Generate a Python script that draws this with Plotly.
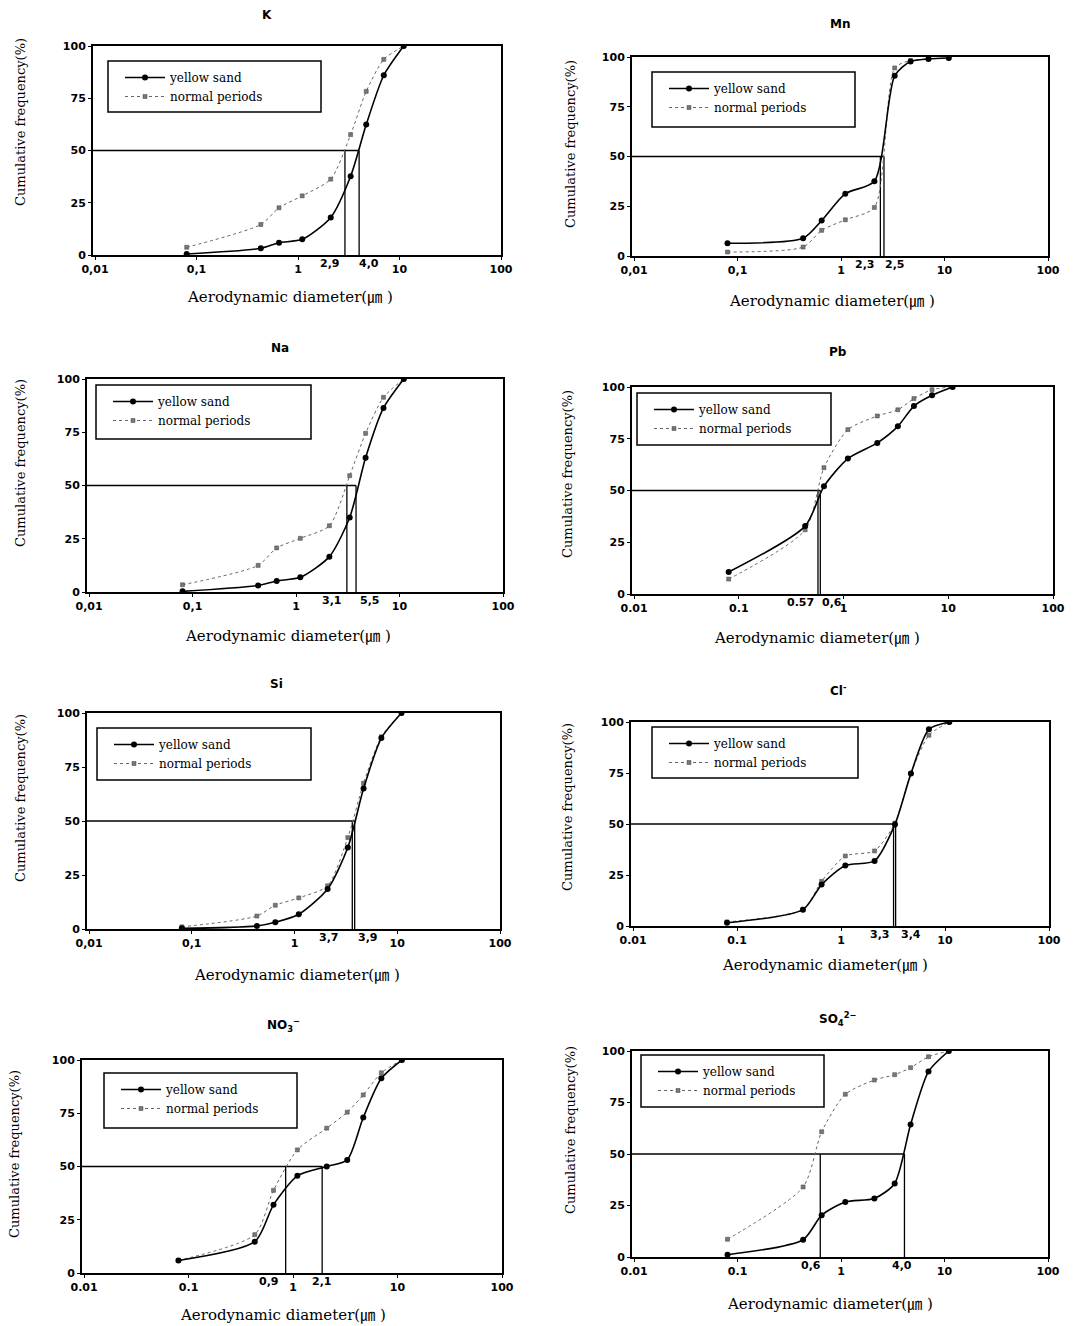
import math
import plotly.graph_objects as go

W, H = 1090, 1326

# ---- data ----
diameters = [0.08, 0.43, 0.65, 1.1, 2.1, 3.3, 4.7, 7.0, 11.0]

panel_names = ["K", "Mn", "Na", "Pb", "Si", "Cl", "NO3", "SO4"]
panel_titles = ["K", "Mn", "Na", "Pb", "Si", "Cl<sup>-</sup>",
                "NO<sub>3</sub><sup>−</sup>", "SO<sub>4</sub><sup>2−</sup>"]

yellow_K = [0.5, 3.2, 5.9, 7.5, 18.0, 37.7, 62.4, 86.0, 100]
normal_K = [3.7, 14.6, 22.6, 28.3, 36.3, 57.6, 78.3, 93.6, 100]
yellow_Mn = [6.4, 8.9, 17.8, 31.3, 37.6, 90.6, 97.8, 99.0, 99.5]
normal_Mn = [2.0, 4.5, 12.9, 18.2, 24.4, 94.5, 98.2, 99.0, 99.5]
yellow_Na = [0.3, 3.1, 5.2, 6.9, 16.6, 35.0, 63.0, 86.4, 100]
normal_Na = [3.4, 12.5, 20.7, 25.2, 31.1, 54.6, 74.5, 91.4, 100]
yellow_Pb = [10.6, 32.8, 52.0, 65.4, 73.0, 81.0, 90.8, 96.0, 100]
normal_Pb = [7.2, 31.0, 61.0, 79.4, 86.0, 89.0, 94.4, 98.7, 100]
yellow_Si = [0.3, 1.4, 3.1, 6.8, 18.5, 37.7, 65.0, 88.4, 100]
normal_Si = [1.0, 6.0, 11.0, 14.4, 20.0, 42.3, 67.5, 89.0, 100]
yellow_Cl = [1.6, 8.0, 20.3, 29.7, 31.9, 49.8, 74.7, 96.4, 100]
normal_Cl = [2.0, 8.2, 21.9, 34.3, 36.8, 50.5, 74.7, 93.5, 100]
yellow_NO3 = [5.9, 14.7, 32.0, 45.6, 50.0, 53.1, 73.0, 91.4, 100]
normal_NO3 = [5.9, 18.0, 38.8, 57.8, 68.0, 75.5, 83.6, 94.0, 100]
yellow_SO4 = [1.1, 8.4, 20.3, 26.7, 28.4, 35.7, 64.3, 90.0, 100]
normal_SO4 = [8.6, 34.0, 60.8, 79.0, 85.9, 88.5, 91.9, 97.2, 100]

yellow_series = [yellow_K, yellow_Mn, yellow_Na, yellow_Pb, yellow_Si, yellow_Cl, yellow_NO3, yellow_SO4]
normal_series = [normal_K, normal_Mn, normal_Na, normal_Pb, normal_Si, normal_Cl, normal_NO3, normal_SO4]

# median diameters (d50): where the reference lines are drawn, and their printed labels
d50_positions = [[2.9, 4.0], [2.4, 2.6], [3.1, 3.8], [0.57, 0.6],
                 [3.65, 3.85], [3.2, 3.35], [0.85, 1.9], [0.63, 4.1]]
d50_labels = [["2,9", "4,0"], ["2,3", "2,5"], ["3,1", "5,5"], ["0.57", "0,6"],
              ["3,7", "3,9"], ["3,3", "3,4"], ["0,9", "2,1"], ["0,6", "4,0"]]

x_tickvals = [0.01, 0.1, 1, 10, 100]
x_ticktext_comma = ["0,01", "0,1", "1", "10", "100"]
x_ticktext_dot = ["0.01", "0.1", "1", "10", "100"]
y_tickvals = [0, 25, 50, 75, 100]

# ---- layout geometry (pixels) ----
frames = [(93, 501, 46, 255), (632, 1048, 57, 256),
          (87, 503, 379, 592), (632, 1053, 387, 594),
          (87, 500, 713, 929), (631, 1049, 722, 926),
          (82, 502, 1060, 1273), (632, 1048, 1051, 1257)]
legend_boxes = [(108, 321, 61, 112), (652, 855, 72, 127),
                (96, 311, 385, 439), (637, 831, 393, 445),
                (97, 311, 728, 780), (652, 858, 727, 778),
                (104, 297, 1073, 1128), (641, 824, 1055, 1107)]
title_pos = [(267, 15), (840, 24), (280, 348), (838, 352),
             (276, 684), (838, 690), (283, 1025), (838, 1019)]
ytitle_pos = [(20, 122), (570, 144), (20, 463), (567, 474),
              (20, 798), (568, 807), (14, 1154), (570, 1130)]
xtitle_pos = [(290, 297), (832, 301), (288, 636), (817, 638),
              (297, 975), (825, 965), (283, 1315), (830, 1304)]
label_anchor = [("right", "left"), ("right", "left"), ("right", "left"), ("right", "left"),
                ("right", "left"), ("right", "left"), ("right", "center"), ("right", "center")]
label_shift = [(-3, -2), (-3, -1), (-3, 2), (-2, 0),
               (-11, 1), (-2, 3), (-5, 0), (3, -2)]
uses_dot = [False, False, False, True, False, True, True, True]


def px(x):
    return x / W


def py(y):
    return 1 - y / H


fig = go.Figure()
annotations = []
shapes = []
layout_axes = {}

tick_font = dict(family="DejaVu Sans", size=11, color="black", weight="bold")
serif = "DejaVu Serif"

for i in range(8):
    k = "" if i == 0 else str(i + 1)
    xa, ya = "x" + k, "y" + k
    lg = "legend" + k
    l, r, t, b = frames[i]

    layout_axes["xaxis" + k] = dict(
        type="log", range=[-2.02, 2], domain=[px(l), px(r)], anchor=ya,
        tickvals=x_tickvals,
        ticktext=x_ticktext_dot if uses_dot[i] else x_ticktext_comma,
        showgrid=False, zeroline=False, showline=True, mirror=True,
        linecolor="black", linewidth=2, ticks="outside", ticklen=3,
        tickcolor="black", tickfont=tick_font, automargin=False)
    layout_axes["yaxis" + k] = dict(
        range=[0, 100], domain=[py(b), py(t)], anchor=xa,
        tickvals=y_tickvals, showgrid=False, zeroline=False, showline=True,
        mirror=True, linecolor="black", linewidth=2, ticks="outside",
        ticklen=3, tickcolor="black", tickfont=tick_font, automargin=False)

    # reference lines at 50 %
    pos = d50_positions[i]
    rx = [0.0095, max(pos), None]
    ry = [50, 50, None]
    for p in pos:
        rx += [p, p, None]
        ry += [0, 50, None]
    fig.add_trace(go.Scatter(x=rx, y=ry, xaxis=xa, yaxis=ya, mode="lines",
                             line=dict(color="black", width=1.3),
                             showlegend=False, hoverinfo="skip"))

    fig.add_trace(go.Scatter(
        x=diameters, y=normal_series[i], xaxis=xa, yaxis=ya,
        mode="lines+markers", name="normal periods", legend=lg,
        line=dict(color="#666666", width=1, dash="dot", shape="spline", smoothing=0.7),
        marker=dict(symbol="square", size=4, color="#777777",
                    line=dict(color="#444444", width=0.5))))
    fig.add_trace(go.Scatter(
        x=diameters, y=yellow_series[i], xaxis=xa, yaxis=ya,
        mode="lines+markers", name="yellow sand", legend=lg,
        line=dict(color="black", width=1.6, shape="spline", smoothing=0.7),
        marker=dict(symbol="circle", size=6, color="black")))

    # legend frame
    bl, br, bt, bb = legend_boxes[i]
    shapes.append(dict(type="rect", xref="paper", yref="paper",
                       x0=px(bl), x1=px(br), y0=py(bb), y1=py(bt),
                       line=dict(color="black", width=1.5),
                       fillcolor="white", layer="below"))
    layout_axes[lg] = dict(
        x=px(bl + 12), y=py(bt + 2), xanchor="left", yanchor="top",
        xref="paper", yref="paper", bgcolor="rgba(0,0,0,0)",
        borderwidth=0, traceorder="reversed", itemwidth=40,
        font=dict(family=serif, size=12, color="black"),
        tracegroupgap=0)

    # d50 labels
    for p, lab, anc, sh in zip(pos, d50_labels[i], label_anchor[i], label_shift[i]):
        annotations.append(dict(
            x=math.log10(p), y=0, xref=xa, yref=ya,
            text=lab, showarrow=False, xanchor=anc, yanchor="top",
            xshift=sh, yshift=0, font=tick_font))

    # panel title
    tx, ty = title_pos[i]
    annotations.append(dict(x=px(tx), y=py(ty), xref="paper", yref="paper",
                            text="<b>" + panel_titles[i] + "</b>", showarrow=False,
                            xanchor="center", yanchor="middle",
                            font=dict(family="DejaVu Sans", size=12, color="black")))
    # axis titles
    yx, yy = ytitle_pos[i]
    annotations.append(dict(x=px(yx), y=py(yy), xref="paper", yref="paper",
                            text="Cumulative frequency(%)", showarrow=False,
                            textangle=-90, xanchor="center", yanchor="middle",
                            font=dict(family=serif, size=13, color="black")))
    xx, xy = xtitle_pos[i]
    annotations.append(dict(x=px(xx), y=py(xy), xref="paper", yref="paper",
                            text="Aerodynamic diameter(㎛ )", showarrow=False,
                            xanchor="center", yanchor="middle",
                            font=dict(family=serif + ", Noto Sans CJK JP", size=15, color="black")))

fig.update_layout(
    width=W, height=H, margin=dict(l=0, r=0, t=0, b=0, autoexpand=False),
    paper_bgcolor="white", plot_bgcolor="white",
    annotations=annotations, shapes=shapes, **layout_axes)

fig.write_html("out.html", config={"displayModeBar": False},
               post_script="document.body.style.margin='0';document.body.style.overflow='hidden';")
